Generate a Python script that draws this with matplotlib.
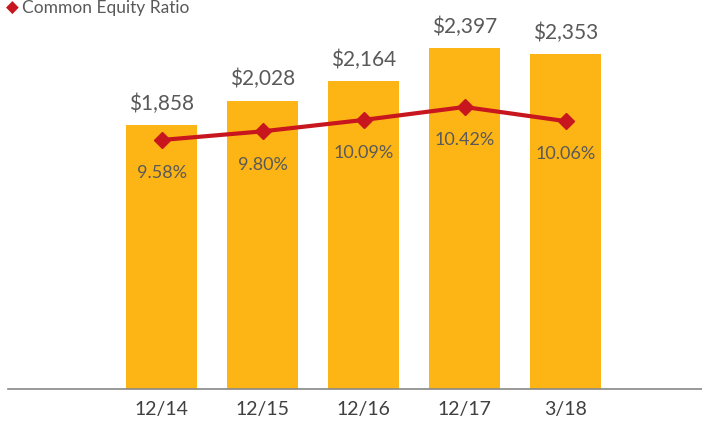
import matplotlib
matplotlib.use("Agg")
import matplotlib.pyplot as plt

categories = ["12/14", "12/15", "12/16", "12/17", "3/18"]
equity = [1858, 2028, 2164, 2397, 2353]
ratio = [9.58, 9.80, 10.09, 10.42, 10.06]

plt.rcParams['font.family'] = ['Lato', 'DejaVu Sans']
W, H = 702, 421
fig = plt.figure(figsize=(W/100, H/100), dpi=100)
ax = fig.add_axes([8/W, (H-389)/H, 694/W, 359/H])
x = list(range(len(categories)))
bar_color = "#FDB515"
ax.bar(x, equity, width=0.70, color=bar_color, zorder=2)
ax.set_xlim(-1.52, 5.35)
ax.set_ylim(0, 359/0.1422)
for xi, v in zip(x, equity):
    ax.annotate(f"${v:,}", (xi, v), xytext=(0, 8), textcoords="offset points",
                ha="center", va="bottom", fontsize=15, color="#595959")
ax.set_xticks(x)
ax.set_xticklabels(categories, fontsize=14, color="#404040")
ax.tick_params(axis="x", length=0, pad=9)
ax.set_yticks([])
for s in ["top", "right", "left"]:
    ax.spines[s].set_visible(False)
ax.spines["bottom"].set_color("#888888")
ax.spines["bottom"].set_linewidth(1.2)

ax2 = ax.twinx()
lo = 3.244
ax2.set_ylim(lo, lo + 359/39.3)
line_color = "#C8161E"
ax2.plot(x, ratio, color=line_color, lw=3, marker="D", ms=8, zorder=3)
for xi, v in zip(x, ratio):
    ax2.annotate(f"{v:.2f}%", (xi, v), xytext=(0, -24), textcoords="offset points",
                 ha="center", va="center", fontsize=13, color="#595959")
ax2.set_yticks([])
for s in ["top", "right", "left", "bottom"]:
    ax2.spines[s].set_visible(False)

fig.text(12/W, 1 - 8/H, "\u25C6", color=line_color, fontsize=12, ha="center", va="center",
         family=["DejaVu Sans"])
fig.text(22/W, 1 - 8/H, "Common Equity Ratio", color="#595959", fontsize=12.5,
         ha="left", va="center")

fig.savefig("out.png", dpi=100)
